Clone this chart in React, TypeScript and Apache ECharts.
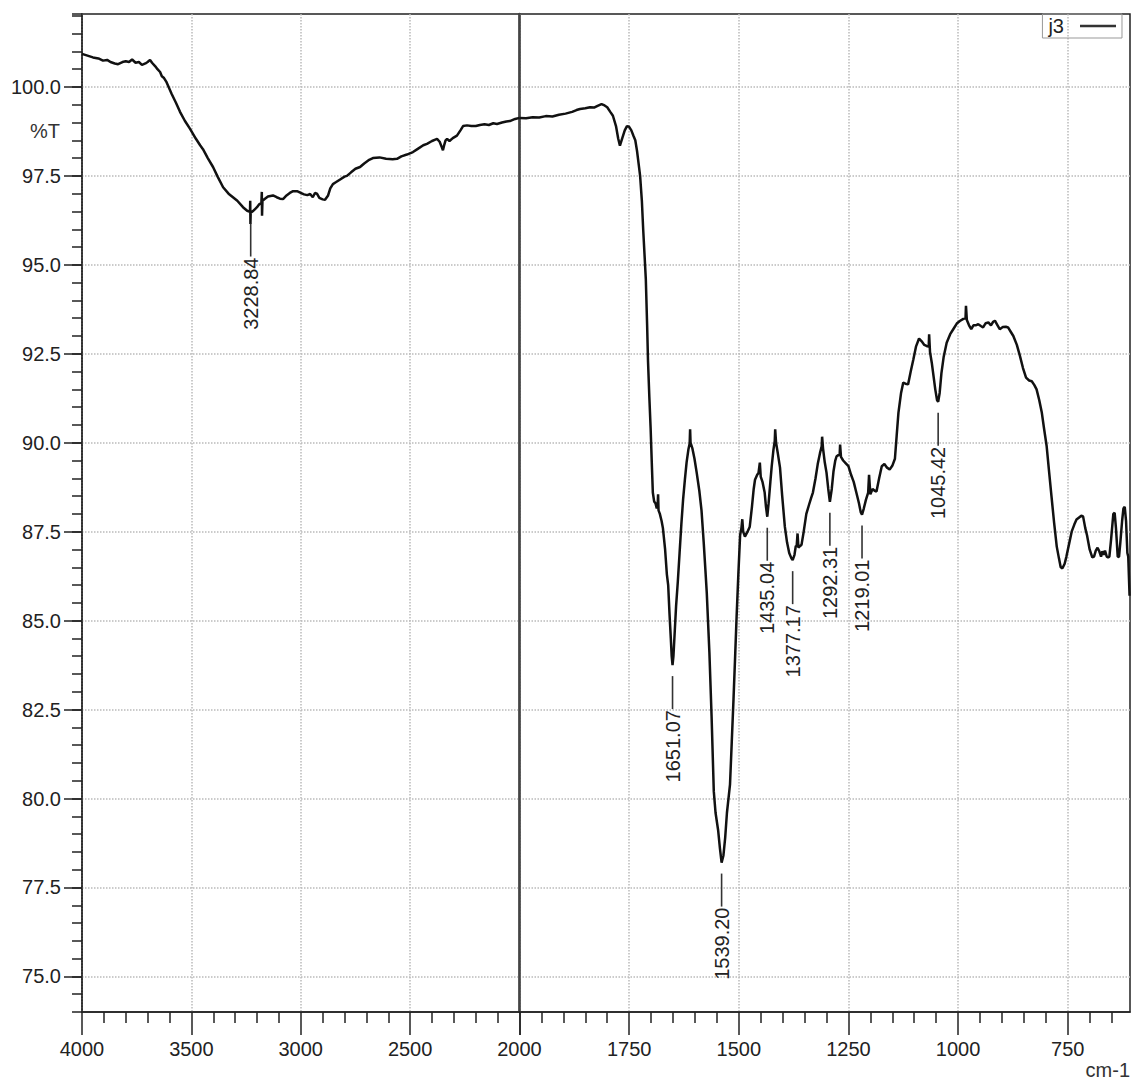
import React, { useEffect, useRef } from "react";
import * as echarts from "echarts";

const FONT = '"Liberation Sans", Arial, sans-serif';
const INK = "#222";

// Spectrum j3, high-wavenumber window (cm-1, %T), 4000 -> 2000
const highRegion: [number, number][] = [
  [4000, 100.93], [3975, 100.88], [3950, 100.83], [3925, 100.8], [3904, 100.74], [3885, 100.76],
  [3870, 100.7], [3850, 100.66], [3835, 100.64], [3815, 100.7], [3800, 100.72], [3785, 100.7],
  [3771, 100.77], [3755, 100.68], [3740, 100.7], [3726, 100.62], [3710, 100.66], [3700, 100.7],
  [3689, 100.76], [3680, 100.68], [3665, 100.58], [3655, 100.5], [3643, 100.42], [3635, 100.3],
  [3625, 100.25], [3615, 100.15], [3607, 100.04], [3590, 99.8], [3570, 99.55], [3552, 99.3],
  [3530, 99.05], [3506, 98.82], [3480, 98.55], [3460, 98.36], [3447, 98.25], [3425, 98.0],
  [3401, 97.75], [3380, 97.48], [3355, 97.18], [3330, 97.0], [3310, 96.9], [3290, 96.8],
  [3264, 96.62], [3245, 96.52], [3232, 96.49], [3231, 96.8], [3230, 96.15], [3228.84, 96.47],
  [3220, 96.5], [3210, 96.56], [3200, 96.62], [3190, 96.7], [3180, 96.74], [3178, 97.05],
  [3177, 96.38], [3175, 96.8], [3165, 96.85], [3150, 96.92], [3127, 96.95], [3110, 96.9],
  [3095, 96.86], [3081, 96.85], [3065, 96.95], [3050, 97.02], [3035, 97.07], [3017, 97.07],
  [3000, 97.02], [2985, 96.98], [2970, 96.96], [2957, 96.99], [2945, 96.9], [2935, 97.02],
  [2926, 97.0], [2915, 96.88], [2900, 96.84], [2889, 96.83], [2875, 96.95], [2865, 97.15],
  [2853, 97.27], [2840, 97.32], [2820, 97.4], [2800, 97.48], [2789, 97.5], [2770, 97.6],
  [2750, 97.7], [2729, 97.75], [2710, 97.85], [2690, 97.94], [2670, 98.0], [2640, 98.02],
  [2610, 97.98], [2580, 97.97], [2560, 97.98], [2540, 98.05], [2515, 98.1], [2487, 98.17],
  [2465, 98.26], [2440, 98.36], [2423, 98.4], [2400, 98.48], [2385, 98.52], [2377, 98.54],
  [2365, 98.46], [2355, 98.3], [2350, 98.22], [2345, 98.35], [2338, 98.5], [2331, 98.54],
  [2320, 98.48], [2305, 98.56], [2286, 98.63], [2270, 98.78], [2258, 98.9], [2240, 98.92],
  [2220, 98.9], [2200, 98.9], [2181, 98.93], [2160, 98.95], [2140, 98.93], [2120, 98.98],
  [2103, 98.96], [2080, 99.0], [2060, 99.03], [2044, 99.04], [2020, 99.1], [2000, 99.13],
];

// Spectrum j3, fingerprint window (cm-1, %T), 2000 -> 608
const lowRegion: [number, number][] = [
  [2000, 99.13], [1985, 99.12], [1970, 99.15], [1955, 99.14], [1940, 99.18], [1925, 99.17],
  [1910, 99.22], [1895, 99.25], [1880, 99.3], [1870, 99.35], [1862, 99.38], [1850, 99.4],
  [1839, 99.43], [1830, 99.42], [1822, 99.47], [1813, 99.52], [1806, 99.48], [1800, 99.43],
  [1793, 99.3], [1787, 99.19], [1780, 98.9], [1775, 98.55], [1771, 98.35], [1766, 98.55],
  [1760, 98.78], [1755, 98.9], [1750, 98.88], [1745, 98.78], [1740, 98.62], [1736, 98.5],
  [1732, 98.2], [1728, 97.8], [1725, 97.5], [1721, 96.8], [1718, 96.0], [1715, 95.3],
  [1712, 94.6], [1709, 93.3], [1707, 92.3], [1704, 91.3], [1701, 90.4], [1698, 89.3],
  [1696, 88.6], [1693, 88.35], [1690, 88.3], [1687, 88.15], [1685, 88.25], [1684, 88.55],
  [1683, 88.1], [1680, 88.0], [1676, 87.8], [1673, 87.6], [1668, 87.0], [1664, 86.3],
  [1661, 86.0], [1658, 85.2], [1655, 84.5], [1653, 84.0], [1651.07, 83.75], [1649, 84.0],
  [1646, 84.7], [1643, 85.4], [1639, 86.1], [1635, 86.9], [1631, 87.7], [1627, 88.4],
  [1623, 88.95], [1619, 89.45], [1615, 89.8], [1612, 89.98], [1611, 90.38], [1610, 90.0],
  [1606, 89.85], [1601, 89.55], [1596, 89.16], [1590, 88.65], [1585, 88.1], [1580, 87.2],
  [1576, 86.4], [1573, 85.78], [1567, 84.1], [1562, 82.3], [1557, 80.2], [1553, 79.6],
  [1547, 79.1], [1543, 78.6], [1539.2, 78.2], [1535, 78.4], [1531, 78.9], [1527, 79.6],
  [1520, 80.4], [1516, 81.6], [1512, 82.8], [1508, 84.1], [1505, 85.1], [1501, 86.3],
  [1497, 87.4], [1494, 87.6], [1492, 87.85], [1490, 87.5], [1486, 87.36], [1480, 87.5],
  [1475, 87.64], [1470, 88.2], [1466, 88.7], [1463, 88.96], [1458, 89.1], [1455, 89.15],
  [1452, 89.44], [1450, 89.05], [1446, 88.9], [1441, 88.6], [1438, 88.2], [1435.04, 87.92],
  [1432, 88.3], [1428, 88.9], [1425, 89.33], [1421, 89.8], [1418, 90.05], [1417, 90.38],
  [1415, 90.0], [1411, 89.7], [1406, 89.3], [1401, 88.5], [1395, 87.64], [1390, 87.2],
  [1385, 86.9], [1380, 86.75], [1377.17, 86.7], [1373, 86.85], [1370, 87.1], [1368, 87.1],
  [1366, 87.45], [1364, 87.05], [1360, 87.1], [1357, 87.13], [1352, 87.5], [1346, 88.0],
  [1340, 88.25], [1335, 88.45], [1331, 88.6], [1325, 89.0], [1320, 89.4], [1315, 89.7],
  [1311, 89.9], [1310, 90.17], [1308, 89.85], [1304, 89.45], [1300, 89.16], [1296, 88.7],
  [1292.31, 88.34], [1288, 88.7], [1284, 89.2], [1280, 89.5], [1277, 89.62], [1273, 89.65],
  [1270, 89.66], [1269, 89.95], [1267, 89.6], [1262, 89.5], [1256, 89.42], [1250, 89.34],
  [1244, 89.1], [1238, 88.9], [1232, 88.6], [1226, 88.3], [1222, 88.05], [1219.01, 87.98],
  [1215, 88.15], [1210, 88.4], [1205, 88.6], [1203, 89.1], [1200, 88.55], [1195, 88.7],
  [1190, 88.65], [1186, 88.63], [1180, 89.0], [1174, 89.34], [1168, 89.4], [1162, 89.3],
  [1156, 89.25], [1150, 89.35], [1144, 89.55], [1140, 90.2], [1136, 90.84], [1130, 91.4],
  [1125, 91.69], [1120, 91.66], [1114, 91.64], [1108, 92.0], [1102, 92.34], [1096, 92.7],
  [1089, 92.93], [1083, 92.85], [1077, 92.75], [1072, 92.72], [1067, 92.7], [1066, 93.05],
  [1064, 92.55], [1060, 92.25], [1057, 91.97], [1052, 91.5], [1048, 91.2], [1045.42, 91.15],
  [1042, 91.4], [1038, 91.95], [1033, 92.4], [1026, 92.81], [1018, 93.05], [1011, 93.19],
  [1003, 93.35], [996, 93.42], [988, 93.48], [983, 93.5], [982, 93.85], [980, 93.45],
  [975, 93.3], [970, 93.19], [965, 93.3], [960, 93.3], [954, 93.33], [948, 93.28],
  [943, 93.24], [937, 93.36], [931, 93.38], [925, 93.3], [920, 93.4], [916, 93.43],
  [910, 93.3], [905, 93.19], [898, 93.25], [891, 93.26], [886, 93.24], [880, 93.12],
  [874, 93.0], [866, 92.75], [859, 92.44], [852, 92.1], [845, 91.83], [838, 91.75],
  [832, 91.73], [826, 91.62], [821, 91.5], [815, 91.2], [809, 90.84], [804, 90.4],
  [798, 89.9], [793, 89.25], [787, 88.49], [781, 87.75], [775, 87.08], [770, 86.75],
  [766, 86.5], [762, 86.47], [757, 86.6], [753, 86.8], [747, 87.15], [741, 87.5],
  [735, 87.7], [730, 87.84], [724, 87.9], [719, 87.95], [715, 87.93], [710, 87.6],
  [706, 87.4], [700, 87.0], [694, 86.78], [690, 86.8], [686, 86.97], [682, 87.05],
  [678, 86.95], [674, 86.8], [671, 86.95], [668, 86.85], [665, 86.97], [661, 86.8],
  [658, 86.78], [655, 86.8], [651, 87.3], [646, 88.0], [643, 88.03], [640, 87.6],
  [636, 86.8], [633, 86.79], [630, 87.2], [626, 87.8], [623, 88.15], [620, 88.2],
  [617, 87.8], [614, 86.9], [612, 86.8], [609, 85.7],
];

// Picked band positions (cm-1)
const highPeaks = [3228.84];
const lowPeaks = [1651.07, 1539.2, 1435.04, 1377.17, 1292.31, 1219.01, 1045.42];

// Axis ticks
const yMajorTicks = [75, 77.5, 80, 82.5, 85, 87.5, 90, 92.5, 95, 97.5, 100];
const lowXMajorTicks = [750, 1000, 1250, 1500, 1750, 2000];
const lowXLabels = [750, 1000, 1250, 1500, 1750];
const lowXMinorTicks = [
  650, 700, 800, 850, 900, 950, 1050, 1100, 1150, 1200, 1300, 1350, 1400, 1450,
  1550, 1600, 1650, 1700, 1800, 1850, 1900, 1950,
];

const Y_MIN = 74;
const Y_MAX = 102.05;

function peakPoints(peaks: number[], spectrum: [number, number][]) {
  return peaks.map((w) => {
    const hit = spectrum.find((p) => p[0] === w);
    return [w, hit ? hit[1] : NaN];
  });
}

function renderPeakLabel(params: any, api: any) {
  const w = api.value(0);
  const t = api.value(1);
  const p = api.coord([w, t]);
  const y0 = p[1] + 11;
  const y1 = y0 + 33;
  return {
    type: "group",
    children: [
      {
        type: "line",
        shape: { x1: p[0], y1: y0, x2: p[0], y2: y1 },
        style: { stroke: "#333", lineWidth: 1.6 },
      },
      {
        type: "text",
        x: p[0],
        y: y1 + 1,
        rotation: Math.PI / 2,
        style: {
          text: w.toFixed(2),
          fontSize: 20,
          fontFamily: FONT,
          fill: INK,
          align: "right",
          verticalAlign: "middle",
        },
      },
    ],
  };
}

const plainNumber = (v: number) => String(v);

export default function App() {
  const ref = useRef<HTMLDivElement>(null);

  useEffect(() => {
    document.body.style.margin = "0";
    if (!ref.current) return;
    const chart = echarts.init(ref.current, undefined, { renderer: "svg" });

    const axisLineStyle = { color: INK, width: 1.5 };
    const gridLine = { show: true, lineStyle: { color: "#bbbbbb", width: 1.5, type: "dotted" as const } };
    const labelStyle = { fontSize: 20, fontFamily: FONT, color: INK };
    const traceStyle = { color: "#111", width: 2.5 };

    const option: any = {
      animation: false,
      backgroundColor: "#ffffff",
      grid: [
        {
          left: 82, top: 14, width: 437.5, bottom: 68,
          show: true, borderColor: INK, borderWidth: 1.5,
          containLabel: false, outerBoundsMode: "none",
        },
        {
          left: 519.5, top: 14, width: 610.5, bottom: 68,
          show: true, borderColor: INK, borderWidth: 1.5,
          containLabel: false, outerBoundsMode: "none",
        },
      ],
      legend: {
        data: [{ name: "j3", icon: "rect" }],
        top: 14,
        right: 11,
        align: "right",
        selectedMode: false,
        itemWidth: 36,
        itemHeight: 2.5,
        padding: [2, 6, 2, 6],
        borderColor: "#999",
        borderWidth: 1,
        borderRadius: 0,
        itemStyle: { color: "#333" },
        textStyle: { ...labelStyle, padding: [0, 11, 0, 0] },
      },
      xAxis: [
        {
          gridIndex: 0,
          type: "value",
          min: 2000,
          max: 4000,
          interval: 500,
          inverse: true,
          position: "bottom",
          axisLine: { show: true, onZero: false, lineStyle: axisLineStyle },
          axisTick: { show: true, length: 23, lineStyle: axisLineStyle },
          minorTick: { show: true, splitNumber: 5, length: 11, lineStyle: axisLineStyle },
          axisLabel: { ...labelStyle, margin: 27, showMinLabel: true, showMaxLabel: true, formatter: plainNumber },
          splitLine: gridLine,
        },
        {
          gridIndex: 1,
          type: "value",
          min: 608,
          max: 2000,
          inverse: true,
          position: "bottom",
          axisLine: { show: true, onZero: false, lineStyle: axisLineStyle },
          axisTick: { show: true, length: 23, lineStyle: axisLineStyle, customValues: lowXMajorTicks },
          axisLabel: { ...labelStyle, margin: 27, customValues: lowXLabels, formatter: plainNumber },
          splitLine: gridLine,
        },
        {
          gridIndex: 1,
          type: "value",
          min: 608,
          max: 2000,
          inverse: true,
          position: "bottom",
          offset: 0,
          axisLine: { show: false, onZero: false },
          axisTick: { show: true, length: 11, lineStyle: axisLineStyle, customValues: lowXMinorTicks },
          axisLabel: { show: false, customValues: lowXMinorTicks },
          splitLine: { show: false },
        },
      ],
      yAxis: [
        {
          gridIndex: 0,
          type: "value",
          min: Y_MIN,
          max: Y_MAX,
          position: "left",
          axisLine: { show: true, onZero: false, lineStyle: axisLineStyle },
          axisTick: { show: true, length: 18, lineStyle: axisLineStyle, customValues: yMajorTicks },
          axisLabel: {
            ...labelStyle,
            margin: 21,
            customValues: yMajorTicks,
            formatter: (v: number) => v.toFixed(1),
          },
          splitLine: gridLine,
        },
        {
          gridIndex: 0,
          type: "value",
          min: Y_MIN,
          max: Y_MAX,
          interval: 0.5,
          position: "left",
          offset: 0,
          axisLine: { show: false, onZero: false },
          axisTick: { show: true, length: 10, lineStyle: axisLineStyle },
          axisLabel: { show: false },
          splitLine: { show: false },
        },
        {
          gridIndex: 1,
          type: "value",
          min: Y_MIN,
          max: Y_MAX,
          position: "left",
          axisLine: { show: true, onZero: false, lineStyle: { color: "#444", width: 2.5 } },
          axisTick: { show: false, customValues: yMajorTicks },
          axisLabel: { show: false, customValues: yMajorTicks },
          splitLine: gridLine,
        },
      ],
      graphic: [
        {
          type: "text",
          left: 30,
          top: 121,
          style: { text: "%T", fontSize: 20, fontFamily: FONT, fill: "#333" },
        },
        {
          type: "text",
          right: 3,
          top: 1060,
          style: { text: "cm-1", fontSize: 20, fontFamily: FONT, fill: "#333" },
        },
      ],
      series: [
        {
          type: "line",
          name: "j3",
          xAxisIndex: 0,
          yAxisIndex: 0,
          data: highRegion,
          symbol: "none",
          showSymbol: false,
          lineStyle: traceStyle,
          itemStyle: { color: "#111" },
          z: 4,
        },
        {
          type: "line",
          name: "j3",
          xAxisIndex: 1,
          yAxisIndex: 2,
          data: lowRegion,
          symbol: "none",
          showSymbol: false,
          lineStyle: traceStyle,
          itemStyle: { color: "#111" },
          z: 4,
        },
        {
          type: "custom",
          name: "peaks-high",
          xAxisIndex: 0,
          yAxisIndex: 0,
          data: peakPoints(highPeaks, highRegion),
          encode: { x: 0, y: 1 },
          renderItem: renderPeakLabel,
          clip: false,
          z: 5,
        },
        {
          type: "custom",
          name: "peaks-low",
          xAxisIndex: 1,
          yAxisIndex: 2,
          data: peakPoints(lowPeaks, lowRegion),
          encode: { x: 0, y: 1 },
          renderItem: renderPeakLabel,
          clip: false,
          z: 5,
        },
      ],
    };

    chart.setOption(option);
    return () => chart.dispose();
  }, []);

  return (
    <div
      ref={ref}
      style={{ position: "absolute", left: 0, top: 0, width: 1133, height: 1080, background: "#fff" }}
    />
  );
}
